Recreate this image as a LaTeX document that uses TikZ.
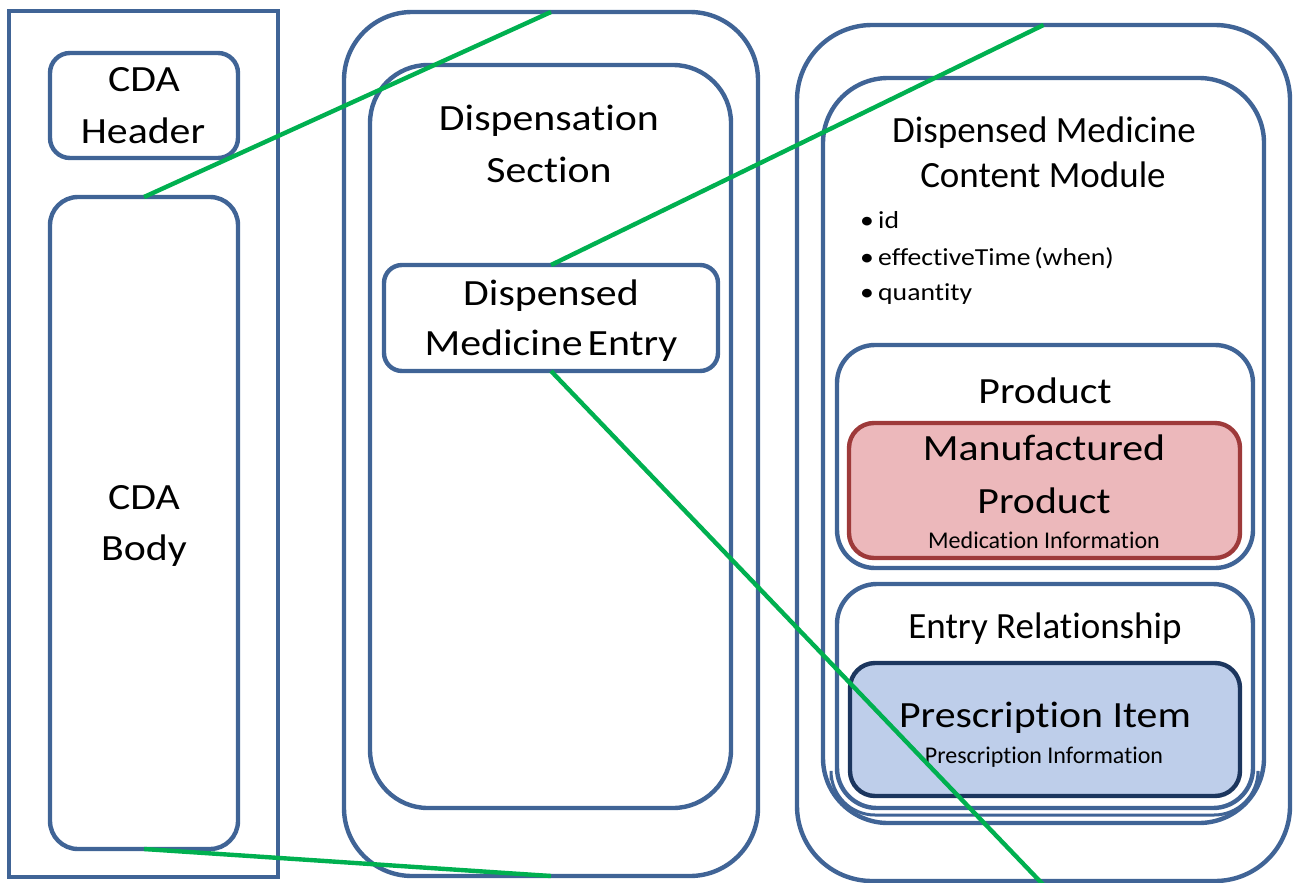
\documentclass[tikz,border=0pt]{standalone}
\usepackage{fontspec}
\setmainfont{Carlito}[Ligatures={NoCommon,NoRequired,NoContextual,NoRare}]
\newfontfamily\widefont{Carlito}[FakeStretch=1.13, Ligatures={NoCommon,NoRequired,NoContextual,NoRare}]
\newcommand\TI{t\kern0pt i}
\usetikzlibrary{fit}
\definecolor{boxblue}{RGB}{64,100,150}
\definecolor{linkgreen}{RGB}{0,176,80}
\definecolor{pinkfill}{RGB}{236,184,187}
\definecolor{pinkdraw}{RGB}{158,58,58}
\definecolor{bluefill}{RGB}{190,206,234}
\definecolor{bluedraw}{RGB}{28,54,94}
\tikzset{
  box/.style={draw=boxblue, line width=4.4pt, inner sep=0pt, outer sep=0pt},
  mfgbox/.style={draw=pinkdraw, fill=pinkfill, line width=4.4pt, inner sep=0pt, outer sep=0pt, rounded corners=25pt},
  rxbox/.style={draw=bluedraw, fill=bluefill, line width=4.4pt, inner sep=0pt, outer sep=0pt, rounded corners=25pt},
  link/.style={draw=linkgreen, line width=4.4pt},
  txt/.style={inner sep=0pt, anchor=base},
  bigw/.style={txt, font=\widefont\fontsize{37}{44}\selectfont},
  bign/.style={txt, font=\fontsize{37}{44}\selectfont},
  small/.style={txt, font=\fontsize{24}{28}\selectfont},
  bul/.style={inner sep=0pt, anchor=base west, font=\widefont\fontsize{24.5}{28}\selectfont},
}
\begin{document}
\begin{tikzpicture}[x=1pt, y=-1pt]
\useasboundingbox (0,0) rectangle (1298,883);
% left column
\node[box, fit={(9,11) (278,877)}] (frame) {};
\node[box, rounded corners=20pt, fit={(50,53) (238,158)}] (hdr) {};
\node[box, rounded corners=28pt, fit={(50,197) (238,849)}] (body) {};
% middle column
\node[box, rounded corners=68pt, fit={(344,12) (758,876)}] (midout) {};
\node[box, rounded corners=58pt, fit={(370,65) (731,808)}] (midin) {};
\node[box, rounded corners=18pt, fit={(384,265) (718,371)}] (entry) {};
% right column
\node[box, rounded corners=75pt, fit={(797,25) (1290,881)}] (rout) {};
\node[box, rounded corners=65pt, fit={(823,78) (1264,823)}] (module) {};
\node[box, rounded corners=38pt, fit={(837,345) (1253,568)}] (product) {};
\node[mfgbox, fit={(849,423) (1240,558)}] (mfg) {};
\node[box, rounded corners=40pt, fit={(837,584) (1253,808)}] (rel) {};
\draw[draw=boxblue, line width=3pt, rounded corners=44pt] (831,780) -- (831,815) -- (1258,815) -- (1258,780);
\node[rxbox, fit={(850,663) (1240,796)}] (rx) {};
% texts
\node[bigw] (t-cda1) at (144,92) {CDA};
\node[bigw] (t-hdr) at (143,143) {Header};
\node[bigw] (t-cda2) at (144,509) {CDA};
\node[bigw] (t-body) at (144,560) {Body};
\node[bigw] (t-disp) at (549,130) {Dispensa\TI on};
\node[bigw] (t-sect) at (549,182) {Section};
\node[bigw] (t-dme1) at (551,305) {Dispensed};
\node[bigw] (t-dme2) at (551,355) {Medicine\hspace{-0.12em} Entry};
\node[bign] (t-mod1) at (1044,142) {Dispensed Medicine};
\node[bign] (t-mod2) at (1043,187) {Content Module};
\node[bul] (b1) at (860,228) {•};
\node[bul] (l1) at (878,228) {id};
\node[bul] (b2) at (860,265) {•};
\node[bul] (l2) at (878,265) {effec\TI veTime\hspace{-0.1em} (when)};
\node[bul] (b3) at (860,300) {•};
\node[bul] (l3) at (878,300) {quan\TI ty};
\node[bigw] (t-prod) at (1045,403) {Product};
\node[bigw] (t-mfg1) at (1044,460) {Manufactured};
\node[bigw] (t-mfg2) at (1044,513) {Product};
\node[small] (t-mfg3) at (1044,548) {Medica\TI on Informa\TI on};
\node[bign] (t-rel) at (1045,638) {Entry Rela\TI onship};
\node[bigw] (t-rx1) at (1045,727) {Prescrip\TI on Item};
\node[small] (t-rx2) at (1044,763) {Prescrip\TI on Informa\TI on};
% links
\draw[link] (body.north) -- (midout.north);
\draw[link] (body.south) -- (midout.south);
\draw[link] (entry.north) -- (rout.north);
\coordinate (rend) at ([yshift=-4pt]rout.south);
\draw[link] (entry.south) -- (rend);
\end{tikzpicture}
\end{document}
